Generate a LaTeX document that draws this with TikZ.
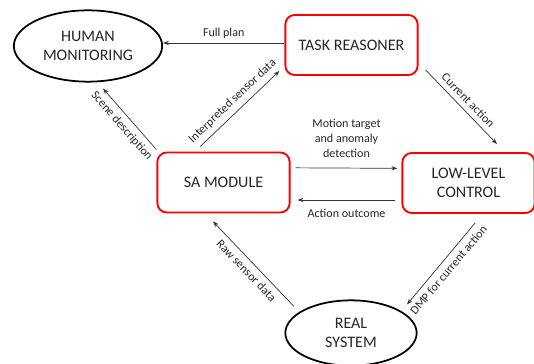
\documentclass[tikz,border=0pt]{standalone}
\usepackage{fontspec}
\setmainfont{Carlito}
\usetikzlibrary{arrows.meta,positioning,shapes.geometric}

\begin{document}
\begin{tikzpicture}[>={Stealth[length=5pt,width=3.6pt]}, font=\fontsize{10.3}{12.8}\selectfont, text=black!85,
	   blk/.style={draw=red, line width=1.6pt, rounded corners=8pt, align=center, minimum width=3.97cm, minimum height=1.8cm, font=\fontsize{13.7}{16.4}\selectfont},
	   ovl/.style={ellipse, draw=black, line width=1.5pt, align=center, inner sep=0pt, font=\fontsize{13.7}{16.4}\selectfont},
	   arr/.style={->, draw=black!80, line width=0.6pt}]
	  \useasboundingbox (0,0) rectangle (16.02,-10.92);
	  \node[ovl, minimum width=4.45cm, minimum height=2.14cm] (hm) at (2.64,-1.38) {HUMAN\\MONITORING};
	  \node[blk] (tr) at (10.545,-1.35) {TASK REASONER};
	  \node[blk] (sa) at (6.705,-5.475) {SA MODULE};
	  \node[blk] (llc) at (14.055,-5.49) {LOW-LEVEL\\CONTROL};
	  \node[ovl, minimum width=3.94cm, minimum height=1.96cm] (rs) at (10.53,-9.99) {REAL\\SYSTEM};
	  \draw[arr] ([yshift=0.06cm]tr.west) -- ([yshift=0.06cm]tr.west -| hm.east) node[midway, above] {Full plan};
	  \draw[arr] ([xshift=-0.7cm,yshift=0.15cm]sa.north) -- ([xshift=-0.15cm,yshift=0.15cm]tr.south west) node[midway, sloped, above=1pt] {Interpreted sensor data};
	  \draw[arr] ([yshift=0.06cm]sa.north west) -- ([xshift=0.45cm,yshift=-0.18cm]hm.south) node[midway, sloped, below=1pt] {Scene description};
	  \draw[arr] ([xshift=0.21cm,yshift=0.18cm]tr.south east) -- ([xshift=0.855cm,yshift=0.24cm]llc.north) node[midway, sloped, above=1pt] {Current action};
	  \draw[arr] ([xshift=0.15cm,yshift=0.44cm]sa.east) -- ([xshift=-0.12cm,yshift=0.44cm]llc.west) node[midway, above=0.2cm, align=center] {Motion target\\and anomaly\\detection};
	  \draw[arr] ([xshift=-0.18cm,yshift=-0.51cm]llc.west) -- ([xshift=0.21cm,yshift=-0.525cm]sa.east) node[midway, below=4pt] {Action outcome};
	  \draw[arr] ([xshift=0.2cm,yshift=-0.27cm]llc.south) -- ([xshift=1.68cm,yshift=-0.15cm]rs.north) node[midway, sloped, below=1pt] {DMP for current action};
	  \draw[arr] ([xshift=-1.71cm,yshift=-0.21cm]rs.north) -- ([xshift=-0.315cm,yshift=-0.24cm]sa.south) node[midway, sloped, below=1pt] {Raw sensor data};
	\end{tikzpicture}
\end{document}
